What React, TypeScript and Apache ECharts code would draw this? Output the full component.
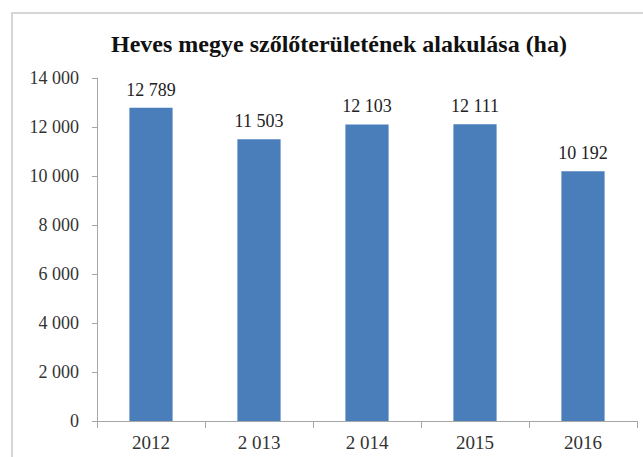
import React, { useEffect, useRef } from "react";
import * as echarts from "echarts";

const categories = ["2012", "2 013", "2 014", "2015", "2016"];
const values = [12789, 11503, 12103, 12111, 10192];
const yTicks = [0, 2000, 4000, 6000, 8000, 10000, 12000, 14000];

const fmt = (v: number) => String(v).replace(/\B(?=(\d{3})+(?!\d))/g, " ");

export default function App() {
  const ref = useRef<HTMLDivElement>(null);
  useEffect(() => {
    const chart = echarts.init(ref.current!, null, { renderer: "svg" });
    const font = "Liberation Serif, serif";
    chart.setOption({
      animation: false,
      backgroundColor: "#ffffff",
      textStyle: { fontFamily: font },
      title: {
        text: "Heves megye szőlőterületének alakulása (ha)",
        left: 334,
        textAlign: "center",
        top: 27,
        textStyle: { fontFamily: font, fontSize: 24, fontWeight: "bold", color: "#111" },
      },
      graphic: [
        {
          type: "rect",
          shape: { x: 12, y: 13, width: 700, height: 500 },
          style: { fill: "none", stroke: "#d6d6d6", lineWidth: 2 },
          silent: true,
        },
      ],
      grid: { left: 97, right: 6, top: 78, bottom: 36 },
      xAxis: {
        type: "category",
        data: categories,
        axisLine: { lineStyle: { color: "#a6a6a6" } },
        axisTick: { show: true, alignWithLabel: false, length: 7, lineStyle: { color: "#a6a6a6" } },
        axisLabel: { fontFamily: font, fontSize: 19, color: "#333", margin: 12 },
      },
      yAxis: {
        type: "value",
        min: yTicks[0],
        max: yTicks[yTicks.length - 1],
        interval: 2000,
        axisLine: { show: true, lineStyle: { color: "#a6a6a6" } },
        axisTick: { show: true, length: 5, lineStyle: { color: "#a6a6a6" } },
        splitLine: { show: false },
        axisLabel: {
          fontFamily: font,
          fontSize: 18,
          color: "#333",
          margin: 18,
          formatter: (v: number) => fmt(v),
        },
      },
      series: [
        {
          type: "bar",
          data: values,
          barWidth: "40%",
          itemStyle: { color: "#4a7ebb" },
          label: {
            show: true,
            position: "top",
            distance: 9,
            fontFamily: font,
            fontSize: 18,
            color: "#222",
            formatter: (p: any) => fmt(p.value),
          },
        },
      ],
    });
    return () => chart.dispose();
  }, []);
  return <div ref={ref} style={{ width: 643, height: 457, position: "absolute", left: 0, top: 0 }} />;
}
